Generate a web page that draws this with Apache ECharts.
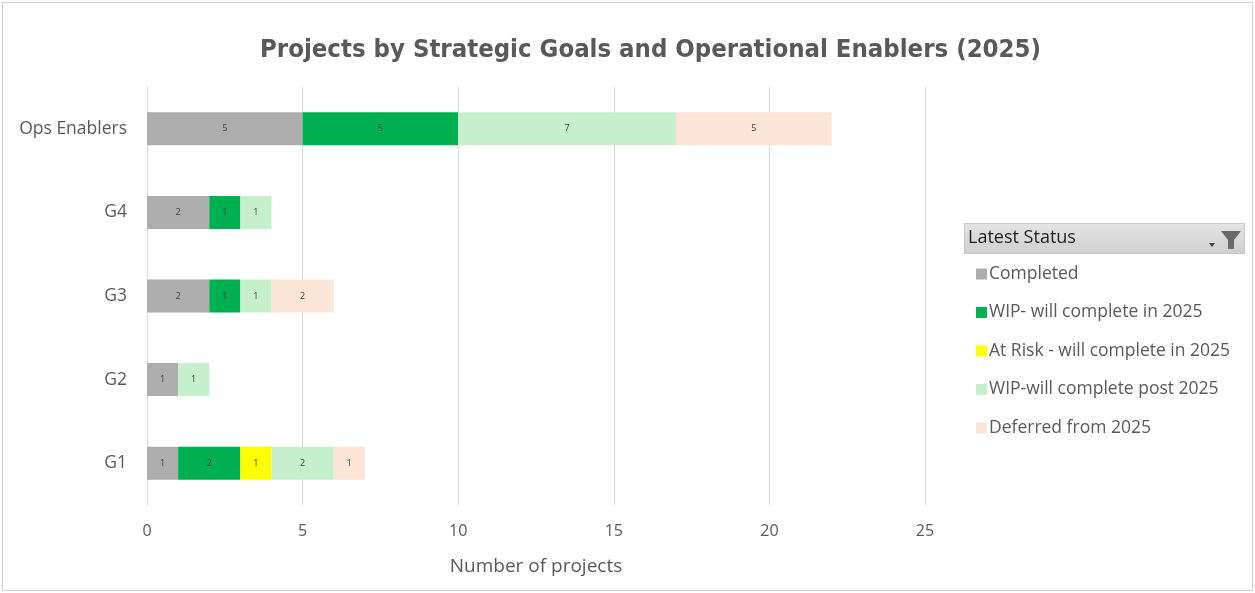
<!DOCTYPE html>
<html><head><meta charset="utf-8">
<script src="https://cdn.jsdelivr.net/npm/echarts@6/dist/echarts.min.js"></script>
<style>
html,body{margin:0;padding:0;background:#fff;}
#c{position:absolute;left:2px;top:2px;width:1249px;height:587px;border:1px solid #d0d0d0;}
</style></head>
<body><div id="c"></div>
<script>
const categories = ['G1','G2','G3','G4','Ops Enablers'];
const seriesNames = ['Completed','WIP- will complete in 2025','At Risk - will complete in 2025','WIP-will complete post 2025','Deferred from 2025'];
const completed = [1,1,2,2,5];
const wipIn2025 = [2,null,1,1,5];
const atRisk = [1,null,null,null,null];
const wipPost2025 = [2,1,1,1,7];
const deferred = [1,null,2,null,5];
const xTicks = [0,5,10,15,20,25];
const colors = ['#ADADAD','#00B050','#FFFF00','#C6EFCE','#FCE4D6'];
const values = [completed,wipIn2025,atRisk,wipPost2025,deferred];

const chart = echarts.init(document.getElementById('c'));
const font = '"Open Sans", Lato, sans-serif';
chart.setOption({
  animation:false,
  title:{text:'Projects by Strategic Goals and Operational Enablers (2025)',left:252,top:29,
    textStyle:{fontFamily:'"DejaVu Sans Condensed", "DejaVu Sans", sans-serif',fontWeight:'bold',fontSize:25.5,color:'#595959'}},
  grid:{left:144,top:84,width:778,height:418},
  xAxis:{type:'value',min:xTicks[0],max:xTicks[xTicks.length-1],interval:5,
    name:'Number of projects',nameLocation:'middle',nameGap:52,
    nameTextStyle:{fontFamily:font,fontSize:19,color:'#595959'},
    axisLine:{show:false},axisTick:{show:false},
    axisLabel:{fontFamily:font,fontSize:16,color:'#595959',margin:18},
    splitLine:{lineStyle:{color:'#d9d9d9',width:1}}},
  yAxis:{type:'category',data:categories,
    axisLine:{show:true,lineStyle:{color:'#d9d9d9'}},axisTick:{show:false},
    axisLabel:{fontFamily:font,fontSize:17.5,color:'#595959',margin:20}},
  legend:{orient:'vertical',left:968,top:257,itemWidth:11,itemHeight:11,itemGap:20.5,icon:'rect',
    data:seriesNames,
    textStyle:{fontFamily:font,fontSize:17.5,color:'#595959',padding:[0,0,0,-3]}},
  graphic:[
    {type:'rect',left:961,top:220,shape:{width:280,height:30},
      style:{fill:new echarts.graphic.LinearGradient(0,0,0,1,[{offset:0,color:'#e4e4e4'},{offset:1,color:'#cfcfcf'}]),stroke:'#c8c8c8',lineWidth:1}},
    {type:'text',left:965,top:226,style:{text:'Latest Status',fontFamily:font,fontSize:18,fill:'#1f1f1f'}},
    {type:'polygon',shape:{points:[[1218,228],[1238,228],[1231,237],[1231,246],[1225,246],[1225,237]]},style:{fill:'#6a6a6a'}},
    {type:'polygon',shape:{points:[[1206,240],[1212,240],[1209,244]]},style:{fill:'#404040'}}
  ],
  series: seriesNames.map((n,i)=>({
    name:n,type:'bar',stack:'s',barWidth:33,data:values[i],
    itemStyle:{color:colors[i]},
    label:{show:true,position:'inside',fontSize:9,color:'#404040',fontFamily:font,
      formatter:p=>p.value==null?'':p.value}
  }))
});
</script></body></html>
